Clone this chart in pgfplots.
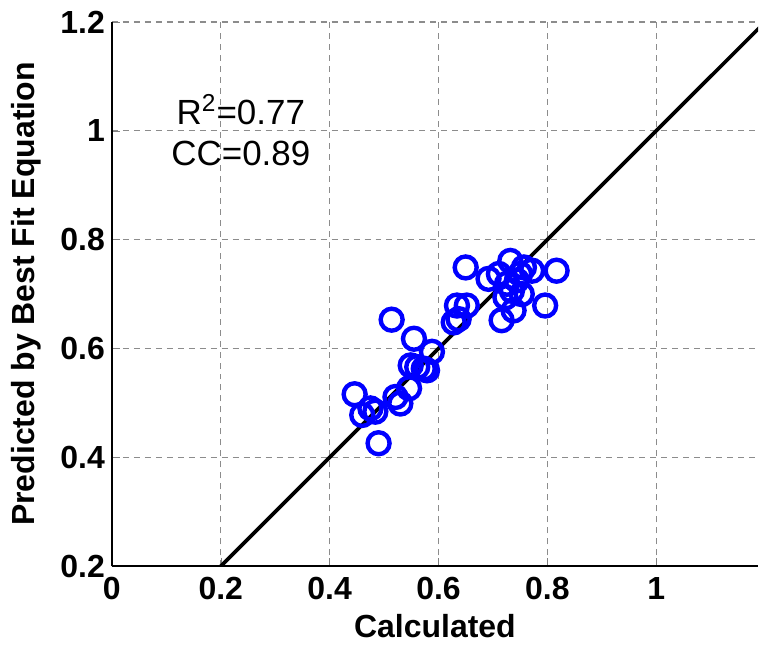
\documentclass[border=0pt]{standalone}
\usepackage{pgfplots}
\pgfplotsset{compat=1.18}
\usepackage{fontspec}
\setmainfont{Liberation Sans}

\begin{document}
\begin{tikzpicture}
\begin{axis}[
  scale only axis,
  width=323.5pt, height=272.5pt,
  xmin=0, xmax=1.187, ymin=0.2, ymax=1.2,
  xtick={0,0.2,0.4,0.6,0.8,1},
  ytick={0.2,0.4,0.6,0.8,1,1.2},
  axis lines*=left,
  axis line style={-, line width=1pt},
  tick align=inside,
  major tick length=4pt,
  grid=major,
  grid style={dash pattern=on 3pt off 2.5pt, gray!90, line width=0.6pt},
  /pgf/number format/assume math mode=true,
  ticklabel style={font=\fontsize{16}{18}\selectfont\bfseries},
  xticklabel style={yshift=-2pt},
  xlabel={Calculated},
  ylabel={Predicted by Best Fit Equation},
  label style={font=\fontsize{16}{18}\selectfont\bfseries},
  xlabel style={at={(axis description cs:0.5,0)}, yshift=-30pt, anchor=center},
  ylabel style={at={(axis description cs:-0.133,0.5)}, anchor=center},
  clip=true,
]
\addplot[blue, only marks, mark=o, mark size=5.5pt, line width=2.2pt] coordinates {
  (0.650,0.749) (0.732,0.761) (0.692,0.728) (0.711,0.737) (0.757,0.749)
  (0.772,0.743) (0.817,0.743) (0.726,0.719) (0.744,0.725) (0.735,0.706)
  (0.753,0.700) (0.723,0.694) (0.738,0.670) (0.716,0.652) (0.796,0.679)
  (0.634,0.679) (0.652,0.679) (0.628,0.648) (0.637,0.654) (0.750,0.737)
  (0.514,0.653) (0.555,0.618) (0.588,0.594) (0.549,0.569) (0.561,0.566)
  (0.573,0.563) (0.579,0.560) (0.546,0.527) (0.521,0.511) (0.530,0.499)
  (0.446,0.516) (0.460,0.478) (0.475,0.490) (0.484,0.484) (0.490,0.426)
};
\addplot[black, line width=1.8pt] coordinates {(0.2,0.2) (1.2,1.2)};
\node[font=\fontsize{17.5}{20}\selectfont] at (axis cs:0.237,1.039) {R\textsuperscript{2}=0.77};
\node[font=\fontsize{17.5}{20}\selectfont] at (axis cs:0.237,0.959) {CC=0.89};
\end{axis}
\path (-56pt,-40pt) rectangle (323.5pt,283.5pt);
\end{tikzpicture}
\end{document}
